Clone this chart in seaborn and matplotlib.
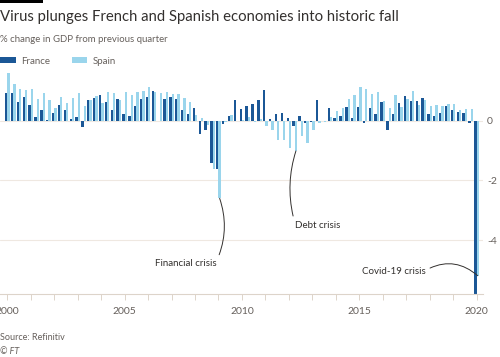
import numpy as np
import pandas as pd
import matplotlib
matplotlib.use("Agg")
import matplotlib.pyplot as plt
import seaborn as sns
from matplotlib.patches import Rectangle

# quarterly % change in GDP, 2000 Q1 .. 2020 Q1
quarters = [f"{y} Q{q}" for y in range(2000, 2020) for q in range(1, 5)] + ["2020 Q1"]

france = [0.95, 0.94, 0.65, 0.81,
          0.55, 0.12, 0.38, 0.02,
          0.26, 0.53, 0.36, 0.06,
          0.12, -0.21, 0.70, 0.78,
          0.87, 0.65, 0.36, 0.74,
          0.24, 0.18, 0.49, 0.74,
          0.82, 1.01, 0.01, 0.75,
          0.79, 0.75, 0.36, 0.24,
          0.45, -0.45, -0.30, -1.42,
          -1.60, -0.10, 0.17, 0.71,
          0.39, 0.52, 0.58, 0.71,
          1.04, 0.07, 0.22, 0.26,
          0.09, -0.18, 0.18, -0.06,
          -0.04, 0.69, -0.01, 0.45,
          0.09, 0.17, 0.48, 0.11,
          0.46, -0.06, 0.44, 0.22,
          0.65, -0.30, 0.22, 0.62,
          0.83, 0.66, 0.67, 0.78,
          0.24, 0.17, 0.28, 0.51,
          0.37, 0.30, 0.26, -0.08,
          -5.80]

spain = [1.60, 1.25, 1.08, 1.03,
         1.07, 0.74, 0.93, 0.69,
         0.43, 0.81, 0.61, 0.76,
         0.93, 0.52, 0.69, 0.85,
         0.62, 0.97, 0.93, 0.69,
         0.98, 0.88, 0.98, 1.02,
         1.13, 0.97, 0.93, 0.97,
         0.91, 0.90, 0.76, 0.64,
         0.20, 0.10, -0.15, -1.60,
         -2.60, -0.05, 0.20, 0.01,
         0.02, 0.12, -0.05, 0.06,
         -0.16, -0.31, -0.65, -0.65,
         -0.92, -1.01, -0.49, -0.75,
         -0.31, -0.08, -0.04, 0.15,
         0.35, 0.45, 0.74, 0.87,
         1.13, 1.08, 0.91, 0.97,
         0.67, 0.43, 0.88, 0.47,
         0.75, 1.02, 0.53, 0.69,
         0.49, 0.54, 0.51, 0.57,
         0.56, 0.38, 0.40, 0.40,
         -5.20]

year_labels = ["2000", "2005", "2010", "2015", "2020"]
y_ticks = [0, -2, -4]
y_labels = ["0", "-2", "-4"]

colors = {"France": "#1b5796", "Spain": "#9ad5ec"}
grey = "#66605c"
grid_col = "#efe8e1"

df = pd.DataFrame({"quarter": quarters * 2,
                   "country": ["France"] * len(quarters) + ["Spain"] * len(quarters),
                   "change": france + spain})

sns.set_theme(style="white")
plt.rcParams["font.family"] = ["Lato", "DejaVu Sans"]

fig = plt.figure(figsize=(5, 3.57), dpi=100)
ax = fig.add_axes([0.0, 0.176, 0.966, 0.631])

for t in y_ticks:
    ax.axhline(t, color=grid_col, lw=0.8, zorder=0)

sns.barplot(data=df, x="quarter", y="change", hue="country", palette=colors,
            width=0.8, linewidth=0, saturation=1, ax=ax, zorder=2)

ax.set_xlim(-1.25, 81.1)
ax.set_ylim(-5.82, 1.75)

# x axis: labels every 5 years, small ticks every year
ax.set_xticks([i * 4 for i in range(0, 21, 5)])
ax.set_xticklabels(year_labels)
ax.set_xticks([i * 4 for i in range(21)], minor=True)
ax.tick_params(axis="x", which="both", bottom=True, length=4, width=0.7,
               color="#ddd4ca", labelsize=7.5, labelcolor=grey, pad=5)

ax.yaxis.tick_right()
ax.set_yticks(y_ticks)
ax.set_yticklabels(y_labels)
ax.tick_params(axis="y", length=0, labelsize=7.5, labelcolor=grey, pad=3)
ax.set_xlabel("")
ax.set_ylabel("")

for s in ["top", "left", "right"]:
    ax.spines[s].set_visible(False)
ax.spines["bottom"].set_color("#ddd4ca")
ax.spines["bottom"].set_linewidth(0.8)

# legend above the plot
sns.move_legend(ax, loc="center left", bbox_to_anchor=(0.0, 0.829),
                bbox_transform=fig.transFigure, ncol=2, frameon=False, title=None,
                fontsize=7, handlelength=1.6, handleheight=0.5, handletextpad=0.6,
                columnspacing=2.2, borderaxespad=0, borderpad=0)
for txt in ax.get_legend().get_texts():
    txt.set_color(grey)

# annotations
ann = dict(fontsize=7, color="#33302e")
ax.annotate("Financial crisis", xy=(36.2, -2.6), xytext=(35.6, -4.8),
            ha="right", va="center", **ann,
            arrowprops=dict(arrowstyle="-", color="#33302e", lw=0.7,
                            relpos=(1, 0.7), shrinkA=1, shrinkB=0,
                            connectionstyle="arc3,rad=0.2"))
ax.annotate("Debt crisis", xy=(49.2, -1.01), xytext=(49.0, -3.5),
            ha="left", va="center", **ann,
            arrowprops=dict(arrowstyle="-", color="#33302e", lw=0.7,
                            relpos=(0, 0.8), shrinkA=1, shrinkB=0,
                            connectionstyle="arc3,rad=-0.15"))
ax.annotate("Covid-19 crisis", xy=(80.2, -5.2), xytext=(71.3, -5.05),
            ha="right", va="center", **ann,
            arrowprops=dict(arrowstyle="-", color="#33302e", lw=0.7,
                            relpos=(1, 0.6), shrinkA=1, shrinkB=0,
                            connectionstyle="arc3,rad=-0.35"))

# header and footer
fig.add_artist(Rectangle((0, 1 - 3 / 357), 43 / 500, 3 / 357, transform=fig.transFigure,
                         color="black", lw=0))
fig.text(0.0, 1 - 17 / 357, "Virus plunges French and Spanish economies into historic fall",
         fontsize=10.7, color="#33302e", va="center", ha="left")
fig.text(0.0, 1 - 40 / 357, "% change in GDP from previous quarter",
         fontsize=6.9, color=grey, va="center", ha="left")
fig.text(0.0, 1 - 338 / 357, "Source: Refinitiv", fontsize=6.5, color=grey,
         va="center", ha="left")
fig.text(0.0, 1 - 351 / 357, "© FT", fontsize=6.5, color=grey, style="italic",
         va="center", ha="left")

fig.savefig("out.png", dpi=100, facecolor="white")
